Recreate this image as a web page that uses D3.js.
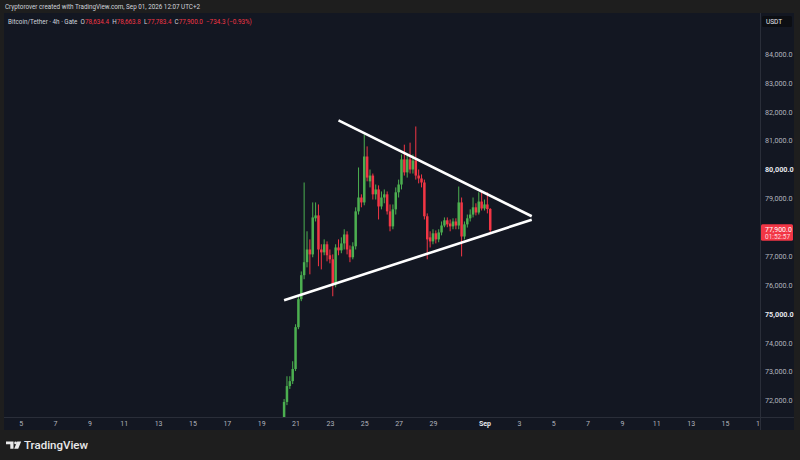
<!DOCTYPE html>
<html><head><meta charset="utf-8">
<script src="https://cdn.jsdelivr.net/npm/d3@7"></script>
<style>html,body{margin:0;padding:0;background:#1e1e1e;} svg{display:block;}</style>
</head><body>
<svg id="c" width="800" height="460"></svg>
<script>
// ---- data (4h candles, Gate BTC/USDT) ----
const firstCandle = "2026-08-20T08:00:00Z";
const lastCandle  = "2026-09-01T08:00:00Z";
const opens = [71360,71950,72500,72670,73090,74540,75510,76340,76790,77230,77060,78310,78410,77230,77130,77410,77030,76890,76020,
  77300,77200,77440,77750,77230,76960,77340,78550,79030,78860,80450,79590,79790,79140,79310,78720,79030,79140,78550,78030,
  78620,79210,79480,80350,79900,80350,80000,80310,79790,79690,79550,78380,77650,77510,77790,77580,77820,78060,78240,78130,
  78030,78200,78060,78860,77680,78100,78310,78440,78690,78510,78890,78650,78790,78634.4];
const highs = [72050,72840,72840,73360,74640,75610,76470,79550,77860,77580,78860,78860,78790,77410,77580,77510,77230,77060,77410,
  77580,77650,77930,77860,77370,77480,78690,80070,79140,81210,80800,80000,79860,79480,79450,79240,79310,79240,78790,78790,
  79380,79650,80520,80860,80520,80930,80520,81490,80000,79830,79650,78480,77860,77930,77890,77930,78200,78340,78340,78270,
  78310,78310,79410,79030,78200,78440,78620,79030,78830,79210,79210,78960,79210,78663.8];
const lows = [71190,71840,72400,72570,73020,74470,75440,76200,76610,76370,76960,78200,76650,76540,77030,76820,76750,75610,75920,
  77030,77100,77230,77060,76790,76890,77230,78440,78690,78760,79590,79380,78960,78960,78270,78620,78830,78440,77860,77930,
  78440,79030,79310,79790,79720,79860,79860,79650,79520,79380,78270,76890,77300,77410,77440,77480,77720,78000,78000,77860,
  77930,77930,77930,76990,77580,77990,78200,78340,78410,78440,78580,78580,78480,77783.4];
const closes = [71950,72500,72670,73090,74540,75510,76340,76790,77230,77060,78340,78410,77230,77130,77410,77030,76890,76020,77300,
  77200,77440,77750,77230,76960,77340,78550,79030,78860,80450,79720,79790,79140,79310,78720,79030,79140,78550,78030,78620,
  79210,79480,80350,79900,80350,80000,80310,79790,79690,79550,78380,77580,77510,77790,77580,77820,78060,78240,78100,78030,
  78200,78060,78860,77680,78100,78310,78440,78690,78510,78890,78650,78790,78630,77900.0];

// 78,000 is hidden behind the last-price label
const priceTicks = [72000,73000,74000,75000,76000,77000,79000,80000,81000,82000,83000,84000];
const boldTicks = [75000, 80000];
const timeTickDates = ["2026-08-05","2026-08-07","2026-08-09","2026-08-11","2026-08-13","2026-08-15","2026-08-17","2026-08-19",
  "2026-08-21","2026-08-23","2026-08-25","2026-08-27","2026-08-29","2026-09-01","2026-09-03","2026-09-05","2026-09-07",
  "2026-09-09","2026-09-11","2026-09-13","2026-09-15","2026-09-17"];
const timeTickLabels = ["5","7","9","11","13","15","17","19","21","23","25","27","29","Sep","3","5","7","9","11","13","15","17"];
const upperLine = [["2026-08-23T12:00:00Z", 81700], ["2026-09-03T18:00:00Z", 78380]];
const lowerLine = [["2026-08-20T08:00:00Z", 75470], ["2026-09-03T18:00:00Z", 78260]];
const lastPrice = 77900.0, countdown = "01:52:57";
const legendParts = [["Bitcoin/Tether · 4h · Gate  ", "#d1d4dc"], ["O", "#d1d4dc"], ["78,634.4", "#f23645"], ["  H", "#d1d4dc"], ["78,663.8", "#f23645"],
  ["  L", "#d1d4dc"], ["77,783.4", "#f23645"], ["  C", "#d1d4dc"], ["77,900.0", "#f23645"], ["  −734.3 (−0.93%)", "#f23645"]];

// ---- layout ----
const svg = d3.select("#c");
const P = {l: 4, t: 13, r: 760, b: 417, axR: 794, axB: 430};
const FONT = "Roboto, 'Liberation Sans', sans-serif";
const UP = "#4caf50", DOWN = "#f23645";

svg.append("rect").attr("width", 800).attr("height", 460).attr("fill", "#1e1e1e");
svg.append("rect").attr("x", P.l).attr("y", P.t).attr("width", P.axR - P.l).attr("height", P.axB - P.t).attr("fill", "#131722");

const x = d3.scaleUtc().domain([new Date("2026-08-05T00:00:00Z"), new Date("2026-09-15T00:00:00Z")]).range([20.7, 725]);
const y = d3.scaleLinear().domain([72000, 84000]).range([400.5, 54]);

const defs = svg.append("defs");
defs.append("clipPath").attr("id", "plot").append("rect").attr("x", P.l).attr("y", P.t).attr("width", P.r - P.l).attr("height", P.b - P.t);
defs.append("clipPath").attr("id", "taxis").append("rect").attr("x", P.l).attr("y", P.b).attr("width", P.r - P.l).attr("height", P.axB - P.b);

// candles
const times = d3.utcHour.every(4).range(new Date(firstCandle), d3.utcHour.offset(new Date(lastCandle), 1));
const candles = times.map((t, i) => ({t, o: opens[i], h: highs[i], l: lows[i], c: closes[i]}));
const g = svg.append("g").attr("clip-path", "url(#plot)");
const cg = g.selectAll("g.c").data(candles).join("g").attr("class", "c");
cg.append("line")
  .attr("x1", d => x(d.t)).attr("x2", d => x(d.t))
  .attr("y1", d => y(d.h)).attr("y2", d => y(d.l))
  .attr("stroke", d => d.c >= d.o ? UP : DOWN).attr("stroke-width", 1);
cg.append("rect")
  .attr("x", d => x(d.t) - 1.25).attr("width", 2.5)
  .attr("y", d => y(Math.max(d.o, d.c))).attr("height", d => Math.max(1, Math.abs(y(d.o) - y(d.c))))
  .attr("fill", d => d.c >= d.o ? UP : DOWN);

// trend lines
const line = d3.line().x(d => x(new Date(d[0]))).y(d => y(d[1]));
[upperLine, lowerLine].forEach(L => g.append("path").attr("d", line(L)).attr("stroke", "#ffffff").attr("stroke-width", 2.6).attr("fill", "none"));

// separators
svg.append("line").attr("x1", P.r + 0.5).attr("x2", P.r + 0.5).attr("y1", P.t).attr("y2", P.axB).attr("stroke", "#2a2e39");
svg.append("line").attr("x1", P.l).attr("x2", P.axR).attr("y1", P.b + 0.5).attr("y2", P.b + 0.5).attr("stroke", "#2a2e39");

// price axis
const ya = svg.append("g").attr("transform", `translate(${P.r},0)`)
  .call(d3.axisRight(y).tickValues(priceTicks).tickFormat(d3.format(",.1f")).tickSize(0).tickPadding(5));
ya.select(".domain").remove();
ya.selectAll("text").attr("font-family", FONT).attr("font-size", 7.2)
  .attr("fill", d => boldTicks.includes(d) ? "#e6e8ee" : "#b2b5be")
  .attr("font-weight", d => boldTicks.includes(d) ? "bold" : "normal");

// USDT box
svg.append("rect").attr("x", 762).attr("y", 16).attr("width", 30).attr("height", 11).attr("rx", 1.5).attr("fill", "#0c0e13");
svg.append("text").attr("x", 766).attr("y", 24.2).attr("font-family", FONT).attr("font-size", 6.5).attr("fill", "#e6e8ee").text("USDT");

// last price label
const ly = y(lastPrice);
svg.append("rect").attr("x", 761).attr("y", ly - 6).attr("width", 32).attr("height", 16.5).attr("rx", 1.5).attr("fill", DOWN);
svg.append("text").attr("x", 765).attr("y", ly + 1.8).attr("font-family", FONT).attr("font-size", 7).attr("fill", "#ffffff").text(d3.format(",.1f")(lastPrice));
svg.append("text").attr("x", 765).attr("y", ly + 8.6).attr("font-family", FONT).attr("font-size", 6.5).attr("fill", "#ffd7db").text(countdown);

// time axis
const xaWrap = svg.append("g").attr("clip-path", "url(#taxis)");
const xa = xaWrap.append("g").attr("transform", `translate(0,${P.b})`)
  .call(d3.axisBottom(x).tickValues(timeTickDates.map(s => new Date(s + "T00:00:00Z"))).tickSize(0).tickPadding(4.5)
    .tickFormat((d, i) => timeTickLabels[i]));
xa.select(".domain").remove();
xa.selectAll("text").attr("font-family", FONT).attr("font-size", 7)
  .attr("fill", (d, i) => timeTickLabels[i] === "Sep" ? "#e6e8ee" : "#b2b5be")
  .attr("font-weight", (d, i) => timeTickLabels[i] === "Sep" ? "bold" : "normal");

// header texts
svg.append("text").attr("x", 5).attr("y", 9).attr("font-family", FONT).attr("font-size", 6.3).attr("fill", "#d1d4dc")
  .text("Cryptorover created with TradingView.com, Sep 01, 2026 12:07 UTC+2");
const lg = svg.append("text").attr("x", 8).attr("y", 23.5).attr("font-family", FONT).attr("font-size", 6.3).attr("xml:space", "preserve");
legendParts.forEach(p => lg.append("tspan").attr("fill", p[1]).text(p[0]));

// TradingView logo
const logo = svg.append("g").attr("fill", "#e9e9ea");
logo.append("path").attr("d", "M6,441.5 H13.5 V448.7 H10.3 V444.3 H6 Z");
logo.append("circle").attr("cx", 15.6).attr("cy", 442.9).attr("r", 1.4);
logo.append("path").attr("d", "M17.2,441.5 H21.2 L18.2,448.7 H14.2 Z");
svg.append("text").attr("x", 24).attr("y", 449.3).attr("font-family", FONT).attr("font-size", 11.5).attr("font-weight", 500)
  .attr("fill", "#e9e9ea").text("TradingView");
</script>
</body></html>
